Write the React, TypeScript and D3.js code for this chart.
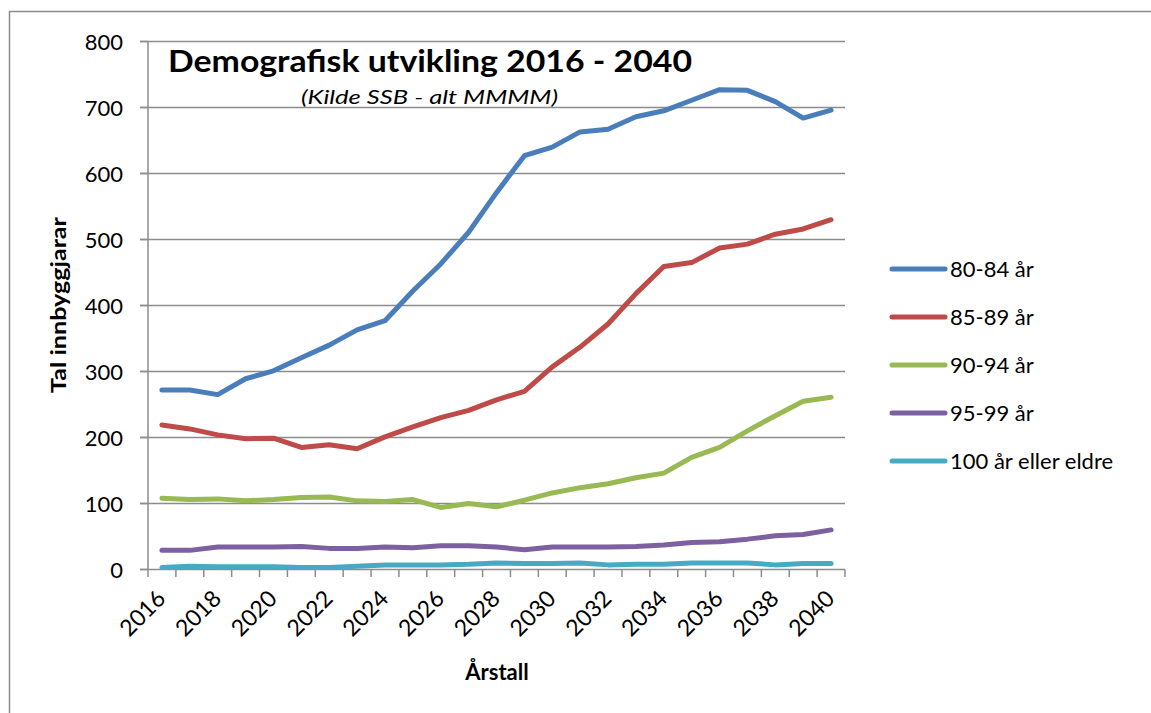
import React from "react";
import * as d3 from "d3";

const years = d3.range(2016, 2041).map(String);
const yTicks = [0, 100, 200, 300, 400, 500, 600, 700, 800];
const seriesNames = ["80-84 år", "85-89 år", "90-94 år", "95-99 år", "100 år eller eldre"];
const seriesColors = ["#4A7EBB", "#BE4B48", "#98B954", "#7D60A0", "#46AAC5"];

const s8084 = [272, 272, 265, 289, 301, 321, 340, 363, 377, 422, 463, 511, 571, 627, 640, 663, 667, 686, 695, 711, 727, 726, 709, 684, 696];
const s8589 = [219, 213, 204, 198, 199, 185, 189, 183, 201, 216, 230, 241, 257, 270, 307, 337, 372, 418, 459, 465, 487, 493, 508, 516, 530];
const s9094 = [108, 106, 107, 104, 106, 109, 110, 104, 103, 106, 94, 100, 95, 105, 116, 124, 130, 139, 146, 170, 185, 210, 233, 255, 261];
const s9599 = [29, 29, 34, 34, 34, 35, 32, 32, 34, 33, 36, 36, 34, 30, 34, 34, 34, 35, 37, 41, 42, 46, 51, 53, 60];
const s100 = [3, 5, 4, 4, 4, 3, 3, 5, 7, 7, 7, 8, 10, 9, 9, 10, 7, 8, 8, 10, 10, 10, 7, 9, 9];
const seriesValues = [s8084, s8589, s9094, s9599, s100];

const FONT = "Lato, 'Open Sans', sans-serif";

export default function App() {
  const W = 1151, H = 713;
  const x = d3.scaleBand<string>().domain(years).range([148, 845]).padding(0);
  const y = d3.scaleLinear().domain([0, 800]).range([569.5, 41.5]);
  const cx = (yr: string) => (x(yr) as number) + x.bandwidth() / 2;
  const line = d3.line<number>().x((_, i) => cx(years[i])).y((v) => y(v));
  const gridColor = "#8c8c8c";
  const tickEdges = d3.range(years.length + 1).map((i) => 148 + i * x.step());

  return (
    <svg width={W} height={H} style={{ position: "absolute", left: 0, top: 0, background: "#fff" }}>
      <rect x={0} y={0} width={W} height={H} fill="#fff" />
      <rect x={9.5} y={11.5} width={1300} height={900} fill="none" stroke="#8a8a8a" strokeWidth={1.5} />
      {yTicks.map((t) => (
        <g key={t}>
          {t > 0 && (
            <line x1={140} x2={845} y1={y(t)} y2={y(t)} stroke={gridColor} strokeWidth={1.5} />
          )}
          <line x1={140} x2={148} y1={y(t)} y2={y(t)} stroke={gridColor} strokeWidth={1.5} />
          <text x={123} y={y(t) + 8} textAnchor="end" fontFamily={FONT} fontSize={22} fill="#000">
            {t}
          </text>
        </g>
      ))}
      <line x1={148} x2={148} y1={41.5} y2={569.5} stroke={gridColor} strokeWidth={1.5} />
      <line x1={140} x2={845} y1={569.5} y2={569.5} stroke={gridColor} strokeWidth={1.5} />
      {tickEdges.map((tx, i) => (
        <line key={i} x1={tx} x2={tx} y1={569.5} y2={577} stroke={gridColor} strokeWidth={1.5} />
      ))}
      {years.map((yr, i) =>
        i % 2 === 0 ? (
          <text
            key={yr}
            transform={`translate(${cx(yr) + 5},${600}) rotate(-45)`}
            textAnchor="end"
            fontFamily={FONT}
            fontSize={23}
            fill="#000"
          >
            {yr}
          </text>
        ) : null
      )}
      {seriesValues.map((vals, si) => (
        <path
          key={si}
          d={line(vals) || ""}
          fill="none"
          stroke={seriesColors[si]}
          strokeWidth={5}
          strokeLinejoin="round"
          strokeLinecap="round"
        />
      ))}
      <text x={168} y={72} fontFamily={FONT} fontWeight="bold" fontSize={30} fill="#000" textLength={524} lengthAdjust="spacingAndGlyphs">
        Demografisk utvikling 2016 - 2040
      </text>
      <text x={301} y={104} fontFamily={FONT} fontStyle="italic" fontSize={20} fill="#000" textLength={257} lengthAdjust="spacingAndGlyphs">
        (Kilde SSB - alt MMMM)
      </text>
      <text
        transform="translate(66,305) rotate(-90)"
        textAnchor="middle"
        fontFamily={FONT}
        fontWeight="bold"
        fontSize={21}
        fill="#000"
        textLength={176}
        lengthAdjust="spacingAndGlyphs"
      >
        Tal innbyggjarar
      </text>
      <text x={497} y={680} textAnchor="middle" fontFamily={FONT} fontWeight="bold" fontSize={22} fill="#000">
        Årstall
      </text>
      {seriesNames.map((n, i) => {
        const ly = 269 + i * 48;
        return (
          <g key={n}>
            <line x1={892} x2={945} y1={ly} y2={ly} stroke={seriesColors[i]} strokeWidth={5} strokeLinecap="round" />
            <text x={950} y={ly + 8} fontFamily={FONT} fontSize={22} fill="#000">
              {n}
            </text>
          </g>
        );
      })}
    </svg>
  );
}
